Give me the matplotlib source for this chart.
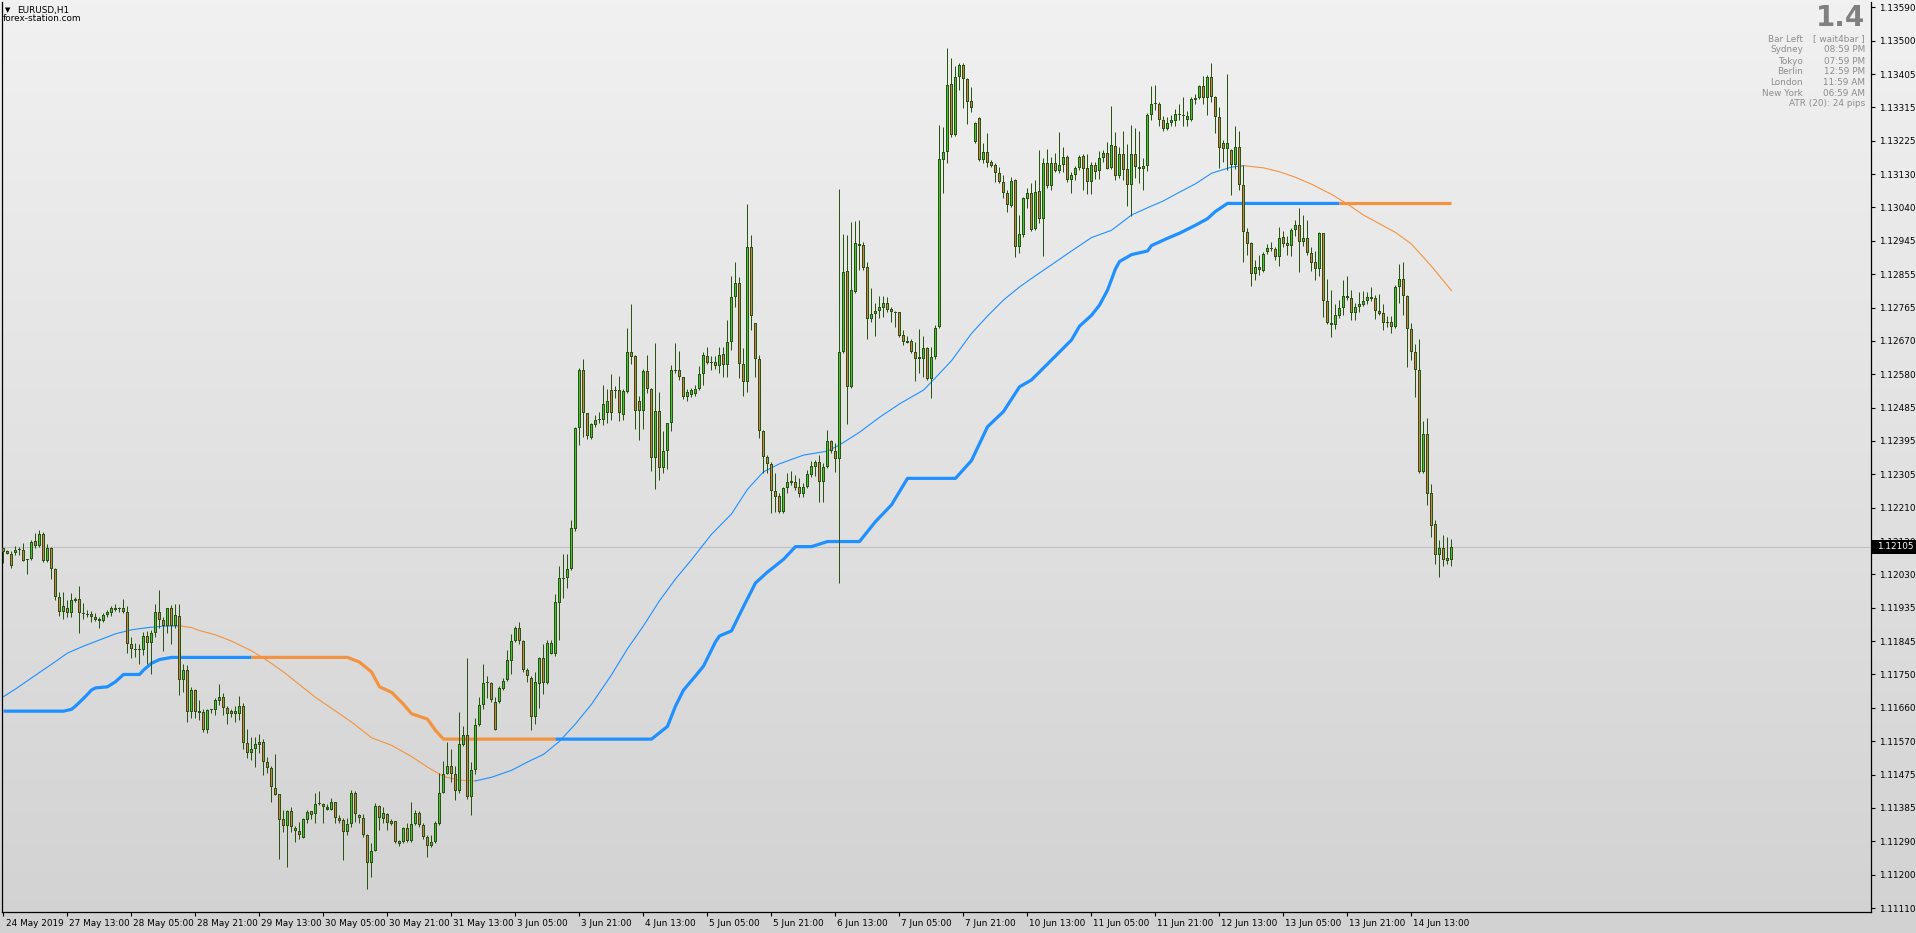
import numpy as np
import matplotlib
matplotlib.use("Agg")
import matplotlib.pyplot as plt
from matplotlib.patches import Rectangle
from matplotlib.collections import PatchCollection, LineCollection

plt.rcParams['font.family'] = ['DejaVu Sans']

# ---------------- data (EURUSD H1, 24 May 2019 21:00 .. 14 Jun 2019 23:00) ----------------
OPEN = [
1.12100, 1.12093, 1.12086, 1.12088, 1.12096, 1.12097, 1.12068, 1.12070, 1.12120, 1.12107,
1.12141, 1.12066, 1.12100, 1.12044, 1.11965, 1.11926, 1.11937, 1.11921, 1.11962, 1.11961,
1.11921, 1.11919, 1.11919, 1.11912, 1.11906, 1.11899, 1.11917, 1.11921, 1.11936, 1.11932,
1.11936, 1.11924, 1.11838, 1.11822, 1.11821, 1.11820, 1.11859, 1.11841, 1.11866, 1.11924,
1.11903, 1.11886, 1.11935, 1.11886, 1.11913, 1.11739, 1.11764, 1.11650, 1.11710, 1.11652,
1.11650, 1.11600, 1.11655, 1.11655, 1.11680, 1.11692, 1.11662, 1.11643, 1.11652, 1.11643,
1.11666, 1.11565, 1.11536, 1.11547, 1.11567, 1.11567, 1.11513, 1.11496, 1.11441, 1.11423,
1.11354, 1.11337, 1.11377, 1.11330, 1.11322, 1.11302, 1.11352, 1.11376, 1.11368, 1.11395,
1.11397, 1.11387, 1.11381, 1.11402, 1.11359, 1.11352, 1.11318, 1.11341, 1.11426, 1.11366,
1.11359, 1.11312, 1.11234, 1.11267, 1.11392, 1.11356, 1.11369, 1.11349, 1.11349, 1.11294,
1.11293, 1.11329, 1.11295, 1.11342, 1.11372, 1.11339, 1.11306, 1.11281, 1.11291, 1.11342,
1.11428, 1.11480, 1.11500, 1.11480, 1.11433, 1.11560, 1.11586, 1.11417, 1.11489, 1.11614,
1.11668, 1.11729, 1.11729, 1.11677, 1.11677, 1.11714, 1.11737, 1.11790, 1.11846, 1.11881,
1.11846, 1.11765, 1.11743, 1.11636, 1.11727, 1.11797, 1.11730, 1.11810, 1.11808, 1.11951,
1.12015, 1.12018, 1.12044, 1.12153, 1.12433, 1.12590, 1.12472, 1.12405, 1.12441, 1.12454,
1.12455, 1.12474, 1.12535, 1.12534, 1.12537, 1.12468, 1.12532, 1.12642, 1.12629, 1.12507,
1.12479, 1.12589, 1.12540, 1.12350, 1.12479, 1.12321, 1.12368, 1.12446, 1.12589, 1.12591,
1.12571, 1.12518, 1.12523, 1.12525, 1.12538, 1.12579, 1.12631, 1.12611, 1.12614, 1.12603,
1.12635, 1.12605, 1.12669, 1.12792, 1.12832, 1.12608, 1.12557, 1.12929, 1.12720, 1.12623,
1.12424, 1.12353, 1.12333, 1.12259, 1.12245, 1.12201, 1.12266, 1.12287, 1.12284, 1.12268,
1.12250, 1.12268, 1.12301, 1.12325, 1.12337, 1.12284, 1.12323, 1.12396, 1.12369, 1.12346,
1.12642, 1.12864, 1.12545, 1.12805, 1.12937, 1.12936, 1.12876, 1.12731, 1.12745, 1.12754,
1.12761, 1.12775, 1.12760, 1.12749, 1.12750, 1.12688, 1.12670, 1.12671, 1.12642, 1.12626,
1.12623, 1.12653, 1.12566, 1.12626, 1.12709, 1.13170, 1.13191, 1.13379, 1.13238, 1.13397,
1.13431, 1.13392, 1.13332, 1.13220, 1.13284, 1.13170, 1.13191, 1.13163, 1.13156, 1.13135,
1.13110, 1.13078, 1.13044, 1.13115, 1.12931, 1.12963, 1.13061, 1.13078, 1.12979, 1.13085,
1.13006, 1.13160, 1.13099, 1.13162, 1.13140, 1.13156, 1.13177, 1.13115, 1.13128, 1.13147,
1.13180, 1.13148, 1.13108, 1.13157, 1.13138, 1.13175, 1.13190, 1.13148, 1.13207, 1.13126,
1.13185, 1.13144, 1.13101, 1.13185, 1.13151, 1.13144, 1.13154, 1.13293, 1.13323, 1.13325,
1.13281, 1.13254, 1.13271, 1.13277, 1.13294, 1.13293, 1.13279, 1.13279, 1.13335, 1.13341,
1.13372, 1.13340, 1.13397, 1.13343, 1.13288, 1.13215, 1.13200, 1.13198, 1.13155, 1.13205,
1.13101, 1.12970, 1.12941, 1.12855, 1.12874, 1.12865, 1.12916, 1.12925, 1.12924, 1.12902,
1.12957, 1.12941, 1.12932, 1.12976, 1.12990, 1.12944, 1.12954, 1.12914, 1.12888, 1.12870,
1.12968, 1.12781, 1.12722, 1.12716, 1.12740, 1.12762, 1.12789, 1.12789, 1.12747, 1.12764,
1.12770, 1.12781, 1.12793, 1.12789, 1.12755, 1.12747, 1.12724, 1.12724, 1.12709, 1.12821,
1.12842, 1.12796, 1.12703, 1.12642, 1.12590, 1.12311, 1.12414, 1.12252, 1.12166, 1.12083,
1.12100, 1.12073, 1.12068]

CLOSE = [
1.12091, 1.12086, 1.12052, 1.12095, 1.12098, 1.12066, 1.12071, 1.12119, 1.12107, 1.12139,
1.12066, 1.12100, 1.12044, 1.11965, 1.11926, 1.11941, 1.11921, 1.11958, 1.11956, 1.11921,
1.11919, 1.11918, 1.11910, 1.11904, 1.11899, 1.11918, 1.11925, 1.11936, 1.11930, 1.11934,
1.11924, 1.11838, 1.11822, 1.11821, 1.11822, 1.11859, 1.11841, 1.11866, 1.11924, 1.11903,
1.11886, 1.11935, 1.11886, 1.11916, 1.11739, 1.11764, 1.11650, 1.11710, 1.11650, 1.11646,
1.11600, 1.11655, 1.11656, 1.11682, 1.11692, 1.11662, 1.11643, 1.11652, 1.11643, 1.11666,
1.11565, 1.11536, 1.11549, 1.11561, 1.11560, 1.11513, 1.11496, 1.11442, 1.11421, 1.11352,
1.11337, 1.11377, 1.11332, 1.11321, 1.11310, 1.11354, 1.11375, 1.11366, 1.11396, 1.11397,
1.11387, 1.11381, 1.11402, 1.11359, 1.11350, 1.11318, 1.11341, 1.11426, 1.11368, 1.11358,
1.11312, 1.11235, 1.11267, 1.11392, 1.11358, 1.11372, 1.11345, 1.11342, 1.11293, 1.11287,
1.11329, 1.11295, 1.11342, 1.11372, 1.11339, 1.11306, 1.11281, 1.11293, 1.11345, 1.11428,
1.11480, 1.11500, 1.11480, 1.11433, 1.11561, 1.11586, 1.11417, 1.11489, 1.11614, 1.11668,
1.11729, 1.11730, 1.11684, 1.11601, 1.11715, 1.11736, 1.11792, 1.11846, 1.11881, 1.11846,
1.11765, 1.11748, 1.11636, 1.11732, 1.11797, 1.11729, 1.11840, 1.11841, 1.11953, 1.12018,
1.12018, 1.12044, 1.12155, 1.12433, 1.12590, 1.12472, 1.12410, 1.12444, 1.12455, 1.12456,
1.12499, 1.12505, 1.12472, 1.12536, 1.12472, 1.12534, 1.12642, 1.12626, 1.12479, 1.12479,
1.12589, 1.12538, 1.12350, 1.12479, 1.12321, 1.12368, 1.12446, 1.12590, 1.12591, 1.12571,
1.12518, 1.12532, 1.12535, 1.12540, 1.12580, 1.12634, 1.12610, 1.12614, 1.12603, 1.12634,
1.12605, 1.12669, 1.12791, 1.12832, 1.12608, 1.12557, 1.12929, 1.12741, 1.12621, 1.12423,
1.12353, 1.12333, 1.12259, 1.12243, 1.12201, 1.12266, 1.12282, 1.12279, 1.12266, 1.12250,
1.12268, 1.12305, 1.12327, 1.12337, 1.12284, 1.12323, 1.12396, 1.12367, 1.12346, 1.12642,
1.12860, 1.12545, 1.12812, 1.12940, 1.12934, 1.12873, 1.12731, 1.12745, 1.12754, 1.12766,
1.12775, 1.12757, 1.12750, 1.12748, 1.12686, 1.12669, 1.12667, 1.12642, 1.12623, 1.12623,
1.12653, 1.12566, 1.12626, 1.12706, 1.13171, 1.13191, 1.13376, 1.13238, 1.13397, 1.13431,
1.13392, 1.13330, 1.13312, 1.13271, 1.13170, 1.13191, 1.13162, 1.13154, 1.13133, 1.13110,
1.13078, 1.13046, 1.13112, 1.12931, 1.12965, 1.13064, 1.13078, 1.12977, 1.13082, 1.13006,
1.13160, 1.13099, 1.13162, 1.13140, 1.13156, 1.13179, 1.13115, 1.13128, 1.13148, 1.13179,
1.13146, 1.13108, 1.13157, 1.13136, 1.13175, 1.13190, 1.13146, 1.13210, 1.13126, 1.13185,
1.13141, 1.13101, 1.13185, 1.13151, 1.13144, 1.13154, 1.13293, 1.13325, 1.13327, 1.13281,
1.13256, 1.13272, 1.13279, 1.13295, 1.13296, 1.13290, 1.13291, 1.13337, 1.13341, 1.13372,
1.13340, 1.13397, 1.13343, 1.13288, 1.13203, 1.13200, 1.13215, 1.13155, 1.13205, 1.13101,
1.12970, 1.12939, 1.12855, 1.12874, 1.12867, 1.12912, 1.12927, 1.12927, 1.12902, 1.12954,
1.12939, 1.12932, 1.12978, 1.12990, 1.12944, 1.12954, 1.12914, 1.12887, 1.12870, 1.12968,
1.12781, 1.12722, 1.12716, 1.12742, 1.12762, 1.12794, 1.12795, 1.12747, 1.12766, 1.12774,
1.12781, 1.12793, 1.12786, 1.12755, 1.12745, 1.12720, 1.12722, 1.12709, 1.12821, 1.12842,
1.12796, 1.12703, 1.12642, 1.12590, 1.12311, 1.12414, 1.12250, 1.12163, 1.12083, 1.12100,
1.12068, 1.12065, 1.12105]

HIGH = [
1.12102, 1.12097, 1.12093, 1.12107, 1.12105, 1.12116, 1.12072, 1.12123, 1.12143, 1.12150,
1.12144, 1.12112, 1.12105, 1.12045, 1.11980, 1.11981, 1.11958, 1.11976, 1.11967, 1.11996,
1.11951, 1.11930, 1.11927, 1.11921, 1.11912, 1.11921, 1.11930, 1.11941, 1.11948, 1.11939,
1.11962, 1.11941, 1.11857, 1.11840, 1.11838, 1.11869, 1.11872, 1.11875, 1.11947, 1.11985,
1.11912, 1.11937, 1.11944, 1.11948, 1.11948, 1.11783, 1.11779, 1.11719, 1.11712, 1.11682,
1.11657, 1.11659, 1.11659, 1.11687, 1.11728, 1.11703, 1.11666, 1.11657, 1.11666, 1.11693,
1.11675, 1.11603, 1.11581, 1.11581, 1.11589, 1.11576, 1.11526, 1.11502, 1.11534, 1.11425,
1.11379, 1.11381, 1.11389, 1.11335, 1.11347, 1.11357, 1.11381, 1.11378, 1.11428, 1.11433,
1.11400, 1.11396, 1.11413, 1.11403, 1.11366, 1.11357, 1.11357, 1.11435, 1.11432, 1.11370,
1.11370, 1.11315, 1.11289, 1.11400, 1.11394, 1.11389, 1.11372, 1.11356, 1.11350, 1.11298,
1.11334, 1.11345, 1.11402, 1.11380, 1.11376, 1.11345, 1.11311, 1.11311, 1.11350, 1.11483,
1.11516, 1.11566, 1.11549, 1.11500, 1.11649, 1.11610, 1.11799, 1.11511, 1.11632, 1.11690,
1.11782, 1.11749, 1.11732, 1.11690, 1.11721, 1.11743, 1.11821, 1.11864, 1.11887, 1.11898,
1.11849, 1.11771, 1.11749, 1.11760, 1.11801, 1.11837, 1.11849, 1.11849, 1.11975, 1.12053,
1.12086, 1.12086, 1.12177, 1.12435, 1.12598, 1.12623, 1.12474, 1.12446, 1.12468, 1.12476,
1.12549, 1.12540, 1.12579, 1.12546, 1.12576, 1.12538, 1.12708, 1.12773, 1.12634, 1.12520,
1.12593, 1.12634, 1.12542, 1.12667, 1.12531, 1.12424, 1.12446, 1.12604, 1.12667, 1.12645,
1.12573, 1.12540, 1.12542, 1.12549, 1.12601, 1.12640, 1.12656, 1.12629, 1.12631, 1.12656,
1.12656, 1.12729, 1.12849, 1.12889, 1.12847, 1.12651, 1.13048, 1.12963, 1.12720, 1.12633,
1.12426, 1.12357, 1.12339, 1.12307, 1.12252, 1.12270, 1.12307, 1.12314, 1.12302, 1.12293,
1.12279, 1.12316, 1.12342, 1.12344, 1.12358, 1.12336, 1.12426, 1.12399, 1.12390, 1.13089,
1.12966, 1.12963, 1.13000, 1.13002, 1.13004, 1.12945, 1.12890, 1.12816, 1.12775, 1.12794,
1.12796, 1.12792, 1.12766, 1.12755, 1.12752, 1.12702, 1.12685, 1.12676, 1.12669, 1.12705,
1.12684, 1.12656, 1.12656, 1.12715, 1.13267, 1.13260, 1.13479, 1.13450, 1.13427, 1.13436,
1.13438, 1.13394, 1.13370, 1.13275, 1.13289, 1.13217, 1.13243, 1.13170, 1.13160, 1.13151,
1.13128, 1.13087, 1.13122, 1.13116, 1.13018, 1.13069, 1.13092, 1.13105, 1.13115, 1.13197,
1.13174, 1.13199, 1.13179, 1.13188, 1.13248, 1.13204, 1.13183, 1.13137, 1.13153, 1.13183,
1.13185, 1.13187, 1.13163, 1.13163, 1.13195, 1.13197, 1.13220, 1.13318, 1.13246, 1.13205,
1.13249, 1.13213, 1.13266, 1.13259, 1.13249, 1.13175, 1.13298, 1.13374, 1.13376, 1.13328,
1.13291, 1.13288, 1.13293, 1.13311, 1.13323, 1.13343, 1.13305, 1.13343, 1.13350, 1.13377,
1.13402, 1.13404, 1.13436, 1.13347, 1.13315, 1.13224, 1.13406, 1.13200, 1.13262, 1.13249,
1.13155, 1.12983, 1.12944, 1.12894, 1.12909, 1.12917, 1.12939, 1.12944, 1.12929, 1.12986,
1.12974, 1.12959, 1.12983, 1.13003, 1.13037, 1.13018, 1.13003, 1.12929, 1.12919, 1.12970,
1.12968, 1.12842, 1.12812, 1.12772, 1.12783, 1.12839, 1.12849, 1.12811, 1.12777, 1.12806,
1.12809, 1.12806, 1.12820, 1.12799, 1.12801, 1.12772, 1.12740, 1.12740, 1.12826, 1.12882,
1.12890, 1.12799, 1.12722, 1.12663, 1.12678, 1.12452, 1.12459, 1.12277, 1.12178, 1.12122,
1.12137, 1.12132, 1.12127]

LOW = [
1.12059, 1.12084, 1.12047, 1.12083, 1.12083, 1.12065, 1.12031, 1.12068, 1.12100, 1.12105,
1.12063, 1.12063, 1.12016, 1.11958, 1.11914, 1.11907, 1.11912, 1.11912, 1.11953, 1.11868,
1.11907, 1.11912, 1.11898, 1.11901, 1.11882, 1.11897, 1.11912, 1.11915, 1.11928, 1.11926,
1.11921, 1.11811, 1.11797, 1.11802, 1.11783, 1.11806, 1.11783, 1.11754, 1.11857, 1.11880,
1.11818, 1.11866, 1.11838, 1.11880, 1.11696, 1.11705, 1.11623, 1.11632, 1.11632, 1.11627,
1.11595, 1.11592, 1.11646, 1.11641, 1.11669, 1.11641, 1.11618, 1.11636, 1.11623, 1.11627,
1.11549, 1.11522, 1.11517, 1.11499, 1.11536, 1.11476, 1.11481, 1.11402, 1.11421, 1.11244,
1.11320, 1.11222, 1.11320, 1.11291, 1.11299, 1.11302, 1.11345, 1.11356, 1.11343, 1.11393,
1.11343, 1.11379, 1.11379, 1.11343, 1.11343, 1.11242, 1.11311, 1.11334, 1.11347, 1.11343,
1.11306, 1.11161, 1.11195, 1.11267, 1.11325, 1.11345, 1.11325, 1.11338, 1.11289, 1.11282,
1.11289, 1.11291, 1.11291, 1.11338, 1.11334, 1.11300, 1.11251, 1.11278, 1.11289, 1.11339,
1.11427, 1.11478, 1.11456, 1.11406, 1.11428, 1.11555, 1.11411, 1.11367, 1.11478, 1.11610,
1.11657, 1.11688, 1.11677, 1.11599, 1.11674, 1.11710, 1.11735, 1.11754, 1.11843, 1.11837,
1.11760, 1.11732, 1.11601, 1.11616, 1.11660, 1.11699, 1.11727, 1.11808, 1.11804, 1.11848,
1.11964, 1.11991, 1.12042, 1.12147, 1.12385, 1.12407, 1.12402, 1.12402, 1.12435, 1.12446,
1.12441, 1.12446, 1.12455, 1.12513, 1.12452, 1.12455, 1.12527, 1.12609, 1.12429, 1.12398,
1.12429, 1.12529, 1.12313, 1.12263, 1.12288, 1.12308, 1.12319, 1.12424, 1.12584, 1.12564,
1.12512, 1.12507, 1.12518, 1.12520, 1.12535, 1.12551, 1.12607, 1.12590, 1.12593, 1.12584,
1.12573, 1.12573, 1.12646, 1.12766, 1.12568, 1.12520, 1.12532, 1.12702, 1.12571, 1.12403,
1.12307, 1.12307, 1.12197, 1.12201, 1.12198, 1.12198, 1.12252, 1.12275, 1.12261, 1.12243,
1.12241, 1.12266, 1.12298, 1.12300, 1.12229, 1.12229, 1.12321, 1.12362, 1.12311, 1.12005,
1.12637, 1.12444, 1.12543, 1.12803, 1.12867, 1.12867, 1.12676, 1.12724, 1.12685, 1.12734,
1.12738, 1.12752, 1.12724, 1.12709, 1.12683, 1.12660, 1.12665, 1.12637, 1.12562, 1.12582,
1.12573, 1.12563, 1.12513, 1.12621, 1.12706, 1.13078, 1.13160, 1.13234, 1.13236, 1.13362,
1.13312, 1.13269, 1.13303, 1.13215, 1.13168, 1.13160, 1.13151, 1.13151, 1.13110, 1.13107,
1.13064, 1.13025, 1.13041, 1.12902, 1.12914, 1.12958, 1.13037, 1.12975, 1.12977, 1.12997,
1.12905, 1.13092, 1.13087, 1.13137, 1.13135, 1.13137, 1.13110, 1.13078, 1.13115, 1.13142,
1.13087, 1.13075, 1.13075, 1.13116, 1.13116, 1.13165, 1.13144, 1.13146, 1.13114, 1.13121,
1.13114, 1.13042, 1.13016, 1.13121, 1.13106, 1.13088, 1.13138, 1.13281, 1.13308, 1.13262,
1.13249, 1.13252, 1.13264, 1.13264, 1.13279, 1.13264, 1.13264, 1.13277, 1.13325, 1.13338,
1.13325, 1.13293, 1.13328, 1.13244, 1.13148, 1.13165, 1.13141, 1.13072, 1.13146, 1.13087,
1.12890, 1.12909, 1.12822, 1.12840, 1.12853, 1.12862, 1.12911, 1.12918, 1.12894, 1.12877,
1.12929, 1.12909, 1.12904, 1.12960, 1.12860, 1.12934, 1.12909, 1.12865, 1.12839, 1.12850,
1.12737, 1.12718, 1.12681, 1.12703, 1.12734, 1.12742, 1.12783, 1.12730, 1.12730, 1.12752,
1.12767, 1.12772, 1.12781, 1.12732, 1.12742, 1.12701, 1.12711, 1.12694, 1.12707, 1.12776,
1.12742, 1.12600, 1.12619, 1.12516, 1.12309, 1.12309, 1.12220, 1.12132, 1.12058, 1.12021,
1.12053, 1.12058, 1.12053]

# smooth average line (read points: bar index, price)
THIN_BAR = [0, 3, 8, 12, 16, 20, 24, 28, 32, 36, 40, 44, 47, 49, 53, 57, 62, 66, 70, 74,
            78, 82, 87, 92, 97, 102, 106, 110, 114, 118, 122, 127, 131, 135, 139, 143, 147, 152, 156, 160,
            164, 168, 172, 177, 182, 186, 190, 194, 200, 206, 209, 214, 219, 224, 230, 233, 237, 242, 246, 250,
            254, 258, 262, 267, 272, 277, 282, 286, 290, 294, 298, 302, 304, 307, 310, 315, 319, 323, 327, 332,
            336, 340, 344, 348, 352, 357, 362]
THIN_VAL = [1.11692, 1.11713, 1.11751, 1.11781, 1.11812, 1.11831, 1.11848, 1.11865, 1.11876, 1.11882,
            1.11886, 1.11887, 1.11882, 1.11874, 1.11862, 1.11845, 1.11818, 1.11791, 1.11760, 1.11725,
            1.11690, 1.11660, 1.11622, 1.11579, 1.11558, 1.11527, 1.11498, 1.11472, 1.11462, 1.11460,
            1.11470, 1.11489, 1.11512, 1.11533, 1.11569, 1.11617, 1.11671, 1.11752, 1.11824, 1.11887,
            1.11956, 1.12016, 1.12069, 1.12139, 1.12195, 1.12263, 1.12311, 1.12333, 1.12357, 1.12368,
            1.12385, 1.12420, 1.12461, 1.12498, 1.12536, 1.12570, 1.12617, 1.12692, 1.12740, 1.12784,
            1.12820, 1.12851, 1.12881, 1.12919, 1.12956, 1.12976, 1.13018, 1.13038, 1.13057, 1.13081,
            1.13104, 1.13133, 1.13140, 1.13150, 1.13154, 1.13148, 1.13137, 1.13122, 1.13103, 1.13075,
            1.13048, 1.13018, 1.12994, 1.12970, 1.12938, 1.12877, 1.12810]
THIN_TURNS = [44, 118, 310]          # bars where the line changes colour (starts blue)

# stepped trailing line (read points: bar index, price)
THICK_BAR = [0, 15, 17, 18, 20, 22, 23, 26, 28, 30, 34, 35, 37, 39, 42, 86, 89, 92, 94, 97,
             100, 102, 106, 108, 110, 162, 166, 168, 170, 173, 175, 178, 179, 182, 185, 188, 191, 195, 198, 202,
             206, 214, 218, 222, 226, 238, 242, 246, 250, 254, 257, 262, 267, 269, 272, 274, 276, 278, 279, 282,
             286, 287, 291, 294, 298, 301, 303, 306, 362]
THICK_VAL = [1.11652, 1.11652, 1.11657, 1.11666, 1.11687, 1.11710, 1.11716, 1.11719, 1.11733, 1.11753,
             1.11753, 1.11765, 1.11784, 1.11794, 1.11800, 1.11800, 1.11787, 1.11760, 1.11719, 1.11704,
             1.11671, 1.11645, 1.11630, 1.11599, 1.11575, 1.11575, 1.11610, 1.11666, 1.11710, 1.11749,
             1.11776, 1.11843, 1.11859, 1.11873, 1.11940, 1.12005, 1.12035, 1.12070, 1.12105, 1.12105,
             1.12119, 1.12119, 1.12174, 1.12220, 1.12293, 1.12293, 1.12342, 1.12435, 1.12477, 1.12545,
             1.12564, 1.12619, 1.12674, 1.12712, 1.12742, 1.12770, 1.12811, 1.12870, 1.12890, 1.12909,
             1.12919, 1.12934, 1.12954, 1.12968, 1.12990, 1.13008, 1.13028, 1.13050, 1.13050]
THICK_TURNS = [62, 138, 334]

PRICE_LABELS = ["1.13590", "1.13500", "1.13405", "1.13315", "1.13225", "1.13130", "1.13040",
                "1.12945", "1.12855", "1.12765", "1.12670", "1.12580", "1.12485", "1.12395",
                "1.12305", "1.12210", "1.12120", "1.12030", "1.11935", "1.11845", "1.11750",
                "1.11660", "1.11570", "1.11475", "1.11385", "1.11290", "1.11200", "1.11110"]
TIME_LABELS = ["24 May 2019", "27 May 13:00", "28 May 05:00", "28 May 21:00", "29 May 13:00",
               "30 May 05:00", "30 May 21:00", "31 May 13:00", "3 Jun 05:00", "3 Jun 21:00",
               "4 Jun 13:00", "5 Jun 05:00", "5 Jun 21:00", "6 Jun 13:00", "7 Jun 05:00",
               "7 Jun 21:00", "10 Jun 13:00", "11 Jun 05:00", "11 Jun 21:00", "12 Jun 13:00",
               "13 Jun 05:00", "13 Jun 21:00", "14 Jun 13:00"]
BARS_PER_LABEL = 16
LAST_PRICE = 1.12105

INFO_NAMES = ["Bar Left", "Sydney", "Tokyo", "Berlin", "London", "New York"]
INFO_VALUES = ["[ wait4bar ]", "08:59 PM", "07:59 PM", "12:59 PM", "11:59 AM", "06:59 AM"]

# ---------------- styling ----------------
W, H = 1916, 933
BULL = '#44c432'
BEAR = '#d27c46'
EDGE = '#2a5414'
BLUE = '#1e90ff'
ORANGE = '#f39340'
TXT = 6.4

def fx(px):
    return px / W

def fy(py):
    return 1 - py / H

fig = plt.figure(figsize=(W / 100, H / 100), dpi=100)

# background gradient (whole window)
bg = fig.add_axes([0, 0, 1, 1], zorder=-10)
t = np.linspace(0, 1, 256).reshape(-1, 1, 1)
c_top = np.array([241, 241, 241]) / 255.0
c_bot = np.array([210, 210, 210]) / 255.0
grad = c_top + (c_bot - c_top) * t
bg.imshow(np.repeat(grad, 2, axis=1), aspect='auto', extent=[0, 1, 0, 1], origin='upper')
bg.set_axis_off()

L_PX, R_PX, T_PX, B_PX = 2, 1871, 2, 912
BAR_PX = 4.0          # horizontal pixels per bar
X0_PX = 3.5           # pixel centre of the first bar
ax = fig.add_axes([fx(L_PX), fy(B_PX), (R_PX - L_PX) / W, (B_PX - T_PX) / H])
ax.patch.set_alpha(0)

# price scale: 1.13590 sits at y=7.3 px, 1.11110 at y=908 px
PX_PER_PRICE = (908.0 - 7.3) / (1.13590 - 1.11110)
ONE_PX = 1.0 / PX_PER_PRICE
p_top = 1.13590 + (7.3 - T_PX) * ONE_PX
p_bot = 1.13590 - (B_PX - 7.3) * ONE_PX
ax.set_ylim(p_bot, p_top)
ax.set_xlim((L_PX - X0_PX) / BAR_PX, (R_PX - X0_PX) / BAR_PX)

O = np.array(OPEN); C = np.array(CLOSE)
Hh = np.maximum(np.array(HIGH), np.maximum(O, C))
Ll = np.minimum(np.array(LOW), np.minimum(O, C))
n = len(O)
idx = np.arange(n)

# current price line
ax.axhline(LAST_PRICE, color='#c0c0c0', lw=0.8, zorder=1)

def colored_segments(xs, ys, turns):
    xs = np.asarray(xs, float); ys = np.asarray(ys, float)
    edges = [xs[0]] + list(turns) + [xs[-1]]
    out = []
    for k in range(len(edges) - 1):
        a, b = edges[k], edges[k + 1]
        inner = (xs > a) & (xs < b)
        sx = np.concatenate([[a], xs[inner], [b]])
        sy = np.interp(sx, xs, ys)
        out.append((sx, sy, BLUE if k % 2 == 0 else ORANGE))
    return out

for sx, sy, col in colored_segments(THICK_BAR, THICK_VAL, THICK_TURNS):
    ax.plot(sx, sy, color=col, lw=2.3, solid_capstyle='butt', zorder=2)
for sx, sy, col in colored_segments(THIN_BAR, THIN_VAL, THIN_TURNS):
    ax.plot(sx, sy, color=col, lw=0.8, zorder=2.5)

# candles: 1px wick, 3px body = dark outline + coloured core
wicks = [[(i, Ll[i]), (i, Hh[i])] for i in idx]
ax.add_collection(LineCollection(wicks, colors=EDGE, linewidths=0.72, zorder=4))
lo = np.minimum(O, C); hi = np.maximum(O, C)
outer_h = np.maximum(hi - lo, ONE_PX)
outer = [Rectangle((i - 0.375, lo[i]), 0.75, outer_h[i]) for i in idx]
ax.add_collection(PatchCollection(outer, facecolors=EDGE, edgecolors='none', linewidths=0, zorder=5))
inner, inner_c = [], []
for i in idx:
    if hi[i] - lo[i] > 2.2 * ONE_PX:
        inner.append(Rectangle((i - 0.16, lo[i] + ONE_PX), 0.32, hi[i] - lo[i] - 2 * ONE_PX))
        inner_c.append(BULL if C[i] >= O[i] else BEAR)
ax.add_collection(PatchCollection(inner, facecolors=inner_c, edgecolors='none', linewidths=0, zorder=6))

# axes frame and ticks
for s in ['left', 'right', 'bottom']:
    ax.spines[s].set_color('black')
    ax.spines[s].set_linewidth(0.9)
ax.spines['top'].set_visible(False)

tick_pos = [1.13590 - k * (1.13590 - 1.11110) / (len(PRICE_LABELS) - 1) for k in range(len(PRICE_LABELS))]
ax.yaxis.tick_right()
ax.set_yticks(tick_pos)
ax.set_yticklabels(PRICE_LABELS)
ax.tick_params(axis='y', direction='out', length=3, width=0.8, pad=3, labelsize=TXT, colors='black')

xt = [k * BARS_PER_LABEL for k in range(len(TIME_LABELS))]
ax.set_xticks(xt)
ax.set_xticklabels([])
ax.tick_params(axis='x', direction='out', length=3, width=0.8)
for x, lab in zip(xt, TIME_LABELS):
    ax.annotate(lab, xy=(x, 0), xycoords=('data', 'axes fraction'), xytext=(2, -7),
                textcoords='offset pixels', ha='left', va='top', fontsize=TXT, color='black',
                annotation_clip=False)

# last price box
fig.add_artist(Rectangle((fx(1872), fy(553.5)), (W - 1872) / W, 14 / H, transform=fig.transFigure,
                         facecolor='black', edgecolor='none', zorder=20))
fig.text(fx(1877), fy(546.6), "1.12105", color='white', fontsize=TXT, va='center', ha='left', zorder=21)

# top-left caption
fig.text(fx(5), fy(10.5), "\u25BC", fontsize=5, va='center', ha='left', color='black')
fig.text(fx(17), fy(10.5), "EURUSD,H1", fontsize=TXT, va='center', ha='left', color='black')
fig.text(fx(3), fy(18.5), "forex-station.com", fontsize=TXT, va='center', ha='left', color='black')

# info panel
fig.text(fx(1865), fy(18.5), "1.4", fontsize=20, fontweight='bold', va='center', ha='right', color='#808080')
rows_y = [39, 50, 61, 72, 82.5, 93]
for yy, nm, val in zip(rows_y, INFO_NAMES, INFO_VALUES):
    fig.text(fx(1803), fy(yy), nm, fontsize=TXT, va='center', ha='right', color='#8c8c8c')
    fig.text(fx(1865), fy(yy), val, fontsize=TXT, va='center', ha='right', color='#8c8c8c')
fig.text(fx(1865), fy(104), "ATR (20): 24 pips", fontsize=TXT, va='center', ha='right', color='#8c8c8c')

fig.savefig("out.png", dpi=100)
